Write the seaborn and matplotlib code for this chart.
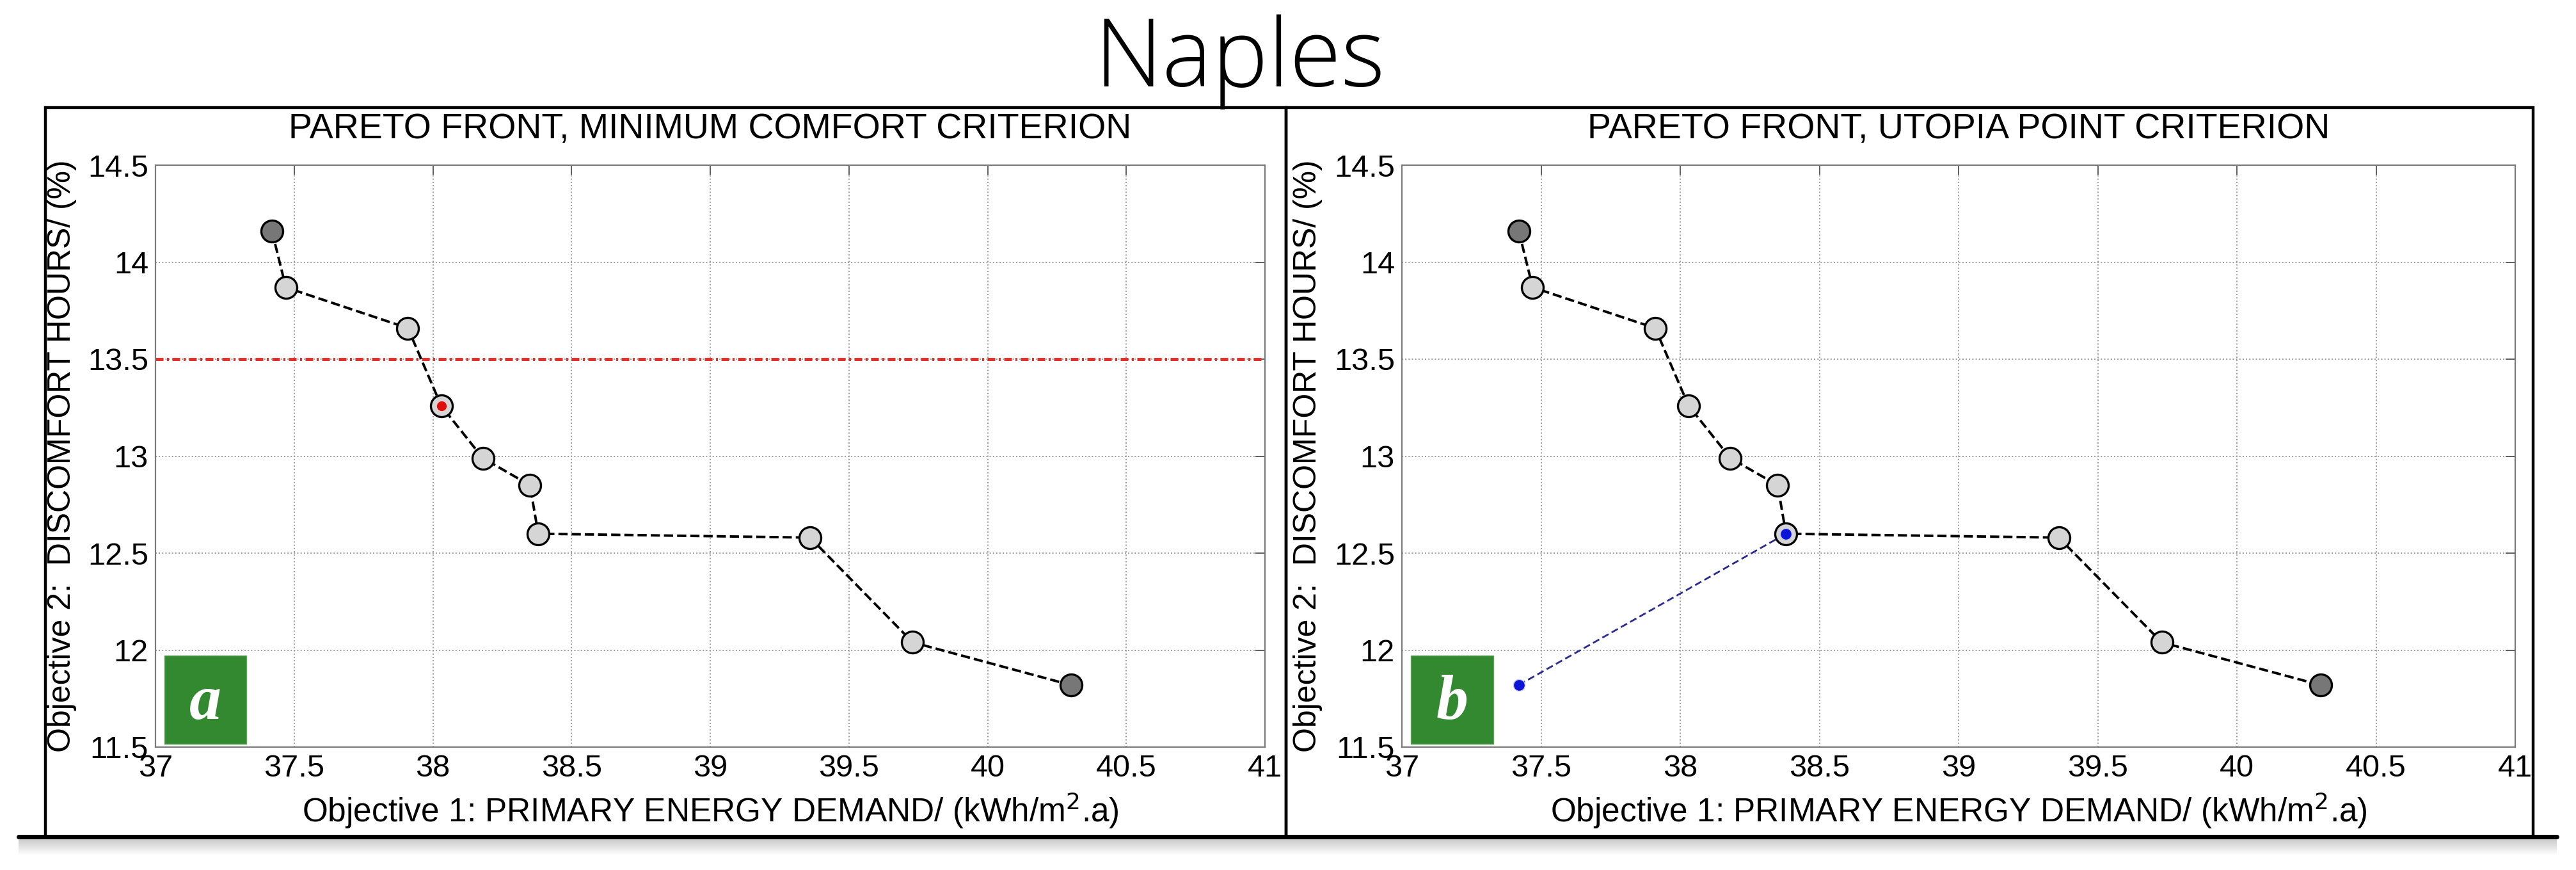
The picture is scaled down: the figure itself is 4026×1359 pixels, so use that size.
import numpy as np
import pandas as pd
import matplotlib
matplotlib.use('Agg')
import matplotlib.pyplot as plt
import seaborn as sns

# Pareto front points (Naples)
energy = [37.42, 37.47, 37.91, 38.03, 38.18, 38.35, 38.38, 39.36, 39.73, 40.30]
discomfort = [14.16, 13.87, 13.66, 13.26, 12.99, 12.85, 12.60, 12.58, 12.04, 11.82]
comfort_limit = 13.5
min_comfort_idx = 3      # point picked by the minimum comfort criterion
utopia_choice_idx = 6    # point picked by the utopia point criterion

titles = ['PARETO FRONT, MINIMUM COMFORT CRITERION', 'PARETO FRONT, UTOPIA POINT CRITERION']
badges = ['a', 'b']
xticks = [37, 37.5, 38, 38.5, 39, 39.5, 40, 40.5, 41]
yticks = [11.5, 12, 12.5, 13, 13.5, 14, 14.5]
xtick_labels = ['37', '37.5', '38', '38.5', '39', '39.5', '40', '40.5', '41']
ytick_labels = ['11.5', '12', '12.5', '13', '13.5', '14', '14.5']

df = pd.DataFrame({'energy': energy, 'discomfort': discomfort})
df['kind'] = 'mid'
df.loc[[0, len(df) - 1], 'kind'] = 'end'
utopia = (min(energy), min(discomfort))

sns.set_theme(style='white')
plt.rcParams['font.family'] = ['Liberation Sans', 'DejaVu Sans']

W, H = 4026, 1359
fig = plt.figure(figsize=(W / 100, H / 100), dpi=100)
fig.patch.set_facecolor('white')


def fx(px):
    return px / W


def fy(py):
    return 1 - py / H


axes_px = [(243, 1977), (2191, 3931)]
ax_top, ax_bot = 258, 1167

for i, (x0, x1) in enumerate(axes_px):
    ax = fig.add_axes([fx(x0), fy(ax_bot), fx(x1 - x0), (ax_bot - ax_top) / H])
    ax.set_facecolor('white')

    sns.lineplot(data=df, x='energy', y='discomfort', color='black', linestyle='--',
                 linewidth=2.8, estimator=None, sort=False, ax=ax, zorder=3)
    sns.scatterplot(data=df[df.kind == 'mid'], x='energy', y='discomfort', color='#d5d5d5',
                    s=600, edgecolor='black', linewidth=2.4, ax=ax, zorder=4)
    sns.scatterplot(data=df[df.kind == 'end'], x='energy', y='discomfort', color='#777777',
                    s=600, edgecolor='black', linewidth=2.4, ax=ax, zorder=4)

    if i == 0:
        ax.axhline(comfort_limit, color='#e3312b', linewidth=3.6,
                   dashes=(2.4, 1.1, 0.6, 1.1), zorder=2)
        sel = df.iloc[min_comfort_idx]
        ax.scatter([sel.energy], [sel.discomfort], s=150, color='#e00d0d',
                   edgecolor='#f4d0d0', linewidth=1.2, zorder=5)
    else:
        sel = df.iloc[utopia_choice_idx]
        ax.plot([utopia[0], sel.energy], [utopia[1], sel.discomfort], color='#2a2a90',
                linewidth=2.0, dashes=(4, 2), zorder=2)
        ax.scatter([utopia[0], sel.energy], [utopia[1], sel.discomfort], s=170,
                   color='#0a14d8', edgecolor='#c8c8f0', linewidth=1.0, zorder=5)

    ax.set_xlim(37, 41)
    ax.set_ylim(11.5, 14.5)
    ax.set_xticks(xticks)
    ax.set_xticklabels(xtick_labels)
    ax.set_yticks(yticks)
    ax.set_yticklabels(ytick_labels)
    ax.grid(True, color='#9a9a9a', linestyle=':', linewidth=1.4)
    ax.tick_params(direction='in', length=11, width=1.3, color='#555555',
                   top=True, right=True, labelsize=35, pad=8, labelcolor='black')
    for sp in ax.spines.values():
        sp.set_color('#7a7a7a')
        sp.set_linewidth(1.6)
        sp.set_visible(True)

    ax.set_title(titles[i], fontsize=40, pad=30, color='black')
    ax.set_xlabel('Objective 1: PRIMARY ENERGY DEMAND/ (kWh/m$^2$.a)', fontsize=37, color='black')
    ax.set_ylabel('Objective 2:  DISCOMFORT HOURS/ (%)', fontsize=36, color='black')
    ax.xaxis.set_label_coords(0.5, -0.075)
    ax.yaxis.set_label_coords(-0.071, 0.5)

    # green badge with panel letter
    ax.add_patch(plt.Rectangle((0.008, 0.006), 0.074, 0.151, transform=ax.transAxes,
                               facecolor='#33892f', edgecolor='#5fa35a', linewidth=1, zorder=6))
    ax.text(0.045, 0.075, badges[i], transform=ax.transAxes, ha='center', va='center',
            fontsize=72, color='white', family='Liberation Serif', style='italic',
            weight='bold', zorder=7)

# outer frames
for x0, x1 in [(71, 2010), (2010, 3959)]:
    fig.add_artist(plt.Rectangle((fx(x0), fy(1307)), fx(x1 - x0), (1307 - 168) / H,
                                 transform=fig.transFigure, fill=False,
                                 edgecolor='black', linewidth=3.2))
fig.add_artist(plt.Line2D([fx(29), fx(3996)], [fy(1307), fy(1307)],
                          transform=fig.transFigure, color='black', linewidth=5))

# soft shadow under the bottom line
shadow = fig.add_axes([fx(29), fy(1336), fx(3996 - 29), 26 / H])
grad = np.linspace(0.78, 1.0, 64).reshape(-1, 1)
shadow.imshow(grad, aspect='auto', cmap='gray', vmin=0, vmax=1)
shadow.axis('off')

fig.text(fx(1937), fy(135), 'Naples', ha='center', va='baseline', fontsize=106,
         family=['Open Sans', 'DejaVu Sans'], weight='light', color='black')

fig.savefig('out.png', dpi=100, facecolor='white')
